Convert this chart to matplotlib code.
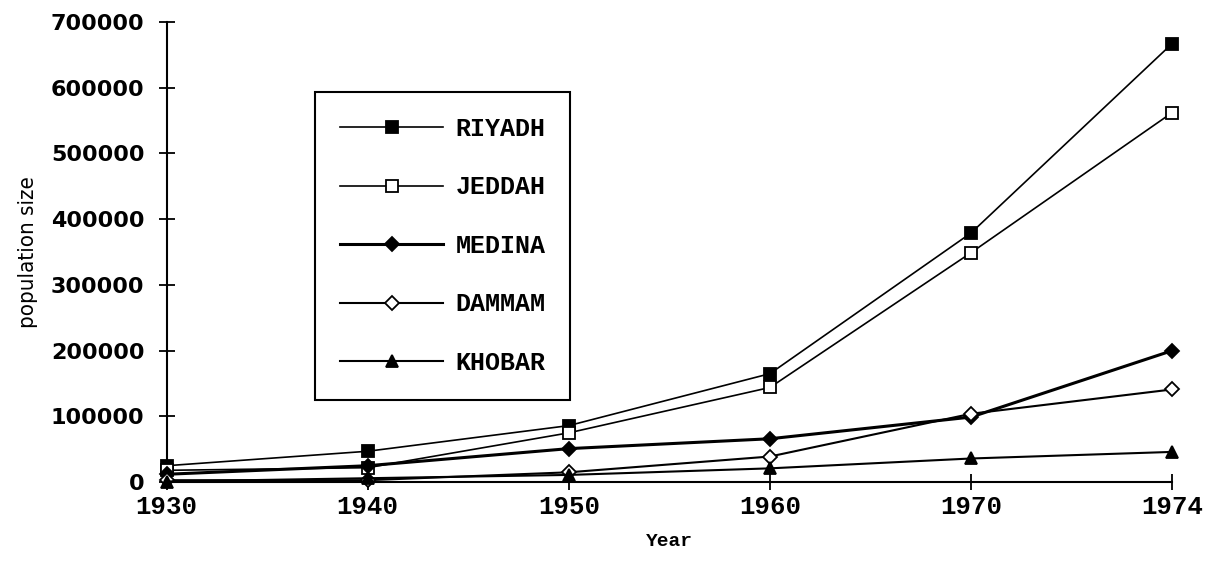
import numpy as np
import matplotlib
matplotlib.use('Agg')
import matplotlib.pyplot as plt

# Data
years = ['1930', '1940', '1950', '1960', '1970', '1974']
riyadh = [25000, 47000, 86000, 165000, 379000, 667000]
jeddah = [18000, 22000, 75000, 144000, 349000, 562000]
medina = [12000, 25000, 51000, 66000, 99000, 200000]
dammam = [3000, 3000, 15000, 39000, 104000, 141000]
khobar = [1000, 6000, 11000, 21000, 36000, 46000]

mono = ['Liberation Mono', 'DejaVu Sans Mono']

fig = plt.figure(figsize=(12.16, 5.74), dpi=100)
ax = fig.add_axes([0.137, 0.160, 0.827, 0.802])

x = np.arange(len(years))
series = [
    ('RIYADH', riyadh, 's', 'black', 1.2, 9),
    ('JEDDAH', jeddah, 's', 'white', 1.2, 9),
    ('MEDINA', medina, 'D', 'black', 2.2, 7),
    ('DAMMAM', dammam, 'D', 'white', 1.5, 7),
    ('KHOBAR', khobar, '^', 'black', 1.5, 8),
]
for name, vals, mk, fc, lw, ms in series:
    ax.plot(x, vals, color='black', lw=lw, marker=mk, markersize=ms,
            markerfacecolor=fc, markeredgecolor='black', markeredgewidth=1.3,
            label=name, clip_on=False, zorder=3)

ax.set_xlim(0, len(years) - 1)
ax.set_ylim(0, 700000)
ax.set_xticks(x)
ax.set_xticklabels(years)
ax.set_yticks(np.arange(0, 700001, 100000))
ax.set_yticklabels([str(v) for v in range(0, 700001, 100000)])

for s in ['top', 'right']:
    ax.spines[s].set_visible(False)
for s in ['left', 'bottom']:
    ax.spines[s].set_linewidth(1.5)
ax.tick_params(direction='inout', length=12, width=1.3)
ax.tick_params(axis='y', pad=10)
ax.tick_params(axis='x', pad=3)

for lab in ax.get_xticklabels():
    lab.set_fontfamily(mono)
    lab.set_fontweight('bold')
    lab.set_fontsize(18.5)
for lab in ax.get_yticklabels():
    lab.set_fontfamily('DejaVu Sans')
    lab.set_fontweight('bold')
    lab.set_fontsize(16)

ax.set_xlabel('Year', fontfamily=mono, fontweight='bold', fontsize=14, labelpad=10)
ax.set_ylabel('population size', fontfamily='DejaVu Sans', fontstretch='condensed',
              fontsize=16, labelpad=9)

leg = ax.legend(loc='upper left', bbox_to_anchor=(0.148, 0.848), frameon=True,
                fancybox=False, edgecolor='black', framealpha=1,
                handlelength=4.1, labelspacing=1.38, borderpad=1.0,
                handletextpad=0.5, borderaxespad=0,
                prop={'family': mono, 'weight': 'bold', 'size': 18})
leg.get_frame().set_linewidth(1.5)

fig.savefig('out.png', dpi=100)
